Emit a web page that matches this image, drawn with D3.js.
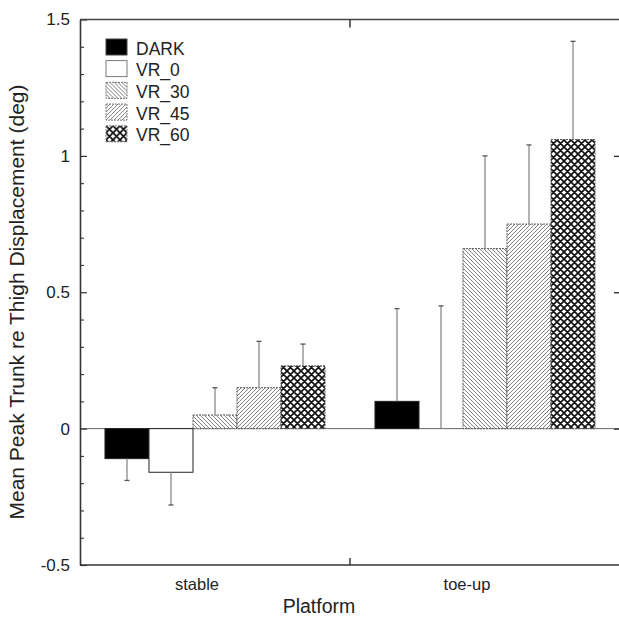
<!DOCTYPE html>
<html>
<head>
<meta charset="utf-8">
<script src="https://cdn.jsdelivr.net/npm/d3@7"></script>
<style>
  body { margin: 0; background: #fff; }
  svg text { font-family: "Liberation Sans", Arial, sans-serif; fill: #222; }
</style>
</head>
<body>
<div id="chart"></div>
<script>
// data
var platforms = ["stable", "toe-up"];
var conditions = ["DARK", "VR_0", "VR_30", "VR_45", "VR_60"];
var meanStable = [-0.11, -0.16, 0.05, 0.15, 0.23];
var meanToeUp  = [0.10, 0.00, 0.66, 0.75, 1.06];
var errStable  = [0.08, 0.12, 0.10, 0.17, 0.08];
var errToeUp   = [0.34, 0.45, 0.34, 0.29, 0.36];
var yTicks = [-0.5, 0, 0.5, 1, 1.5];
var yTickLabels = ["-0.5", "0", "0.5", "1", "1.5"];
var yMinorTicks = [-0.4, -0.3, -0.2, -0.1, 0.1, 0.2, 0.3, 0.4, 0.6, 0.7, 0.8, 0.9, 1.1, 1.2, 1.3, 1.4];

var means = { "stable": meanStable, "toe-up": meanToeUp };
var errs = { "stable": errStable, "toe-up": errToeUp };

var W = 619, H = 618;
var mLeft = 80, mRight = 620, mTop = 19.5, mBottom = 565;

var svg = d3.select("#chart").append("svg")
  .attr("width", W).attr("height", H);

// patterns
var defs = svg.append("defs");
var p30 = defs.append("pattern").attr("id", "vr30")
  .attr("patternUnits", "userSpaceOnUse").attr("width", 4).attr("height", 4);
p30.append("rect").attr("width", 4).attr("height", 4).attr("fill", "#fff");
p30.append("path").attr("d", "M-1,-1L5,5M3,-1L5,1M-1,3L1,5")
  .attr("stroke", "#707070").attr("stroke-width", 0.9);

var p45 = defs.append("pattern").attr("id", "vr45")
  .attr("patternUnits", "userSpaceOnUse").attr("width", 4).attr("height", 4);
p45.append("rect").attr("width", 4).attr("height", 4).attr("fill", "#fff");
p45.append("path").attr("d", "M-1,5L5,-1M-1,1L1,-1M3,5L5,3")
  .attr("stroke", "#707070").attr("stroke-width", 0.9);

var p60 = defs.append("pattern").attr("id", "vr60")
  .attr("patternUnits", "userSpaceOnUse").attr("width", 7).attr("height", 7);
p60.append("rect").attr("width", 7).attr("height", 7).attr("fill", "#fff");
p60.append("path").attr("d", "M-1,-1L8,8M-1,6L1,8M6,-1L8,1M-1,8L8,-1M-1,1L1,-1M6,8L8,6")
  .attr("stroke", "#111").attr("stroke-width", 1.7);

var fills = { "DARK": "#000", "VR_0": "#fff", "VR_30": "url(#vr30)", "VR_45": "url(#vr45)", "VR_60": "url(#vr60)" };

// scales
var x0 = d3.scaleBand().domain(platforms).range([mLeft, mRight])
  .paddingInner(0.185).paddingOuter(0.0925);
var x1 = d3.scaleBand().domain(conditions).range([0, x0.bandwidth()]);
var y = d3.scaleLinear().domain([-0.5, 1.5]).range([mBottom, mTop]);

// zero line
svg.append("line")
  .attr("x1", mLeft).attr("x2", mRight)
  .attr("y1", y(0)).attr("y2", y(0))
  .attr("stroke", "#666").attr("stroke-width", 1);

// bars
platforms.forEach(function(p) {
  var g = svg.append("g").attr("transform", "translate(" + x0(p) + ",0)");
  conditions.forEach(function(c, i) {
    var v = means[p][i];
    g.append("rect")
      .attr("x", x1(c)).attr("width", x1.bandwidth())
      .attr("y", y(Math.max(0, v)))
      .attr("height", Math.abs(y(v) - y(0)))
      .attr("fill", fills[c])
      .attr("stroke", i < 2 ? "#222" : "#555")
      .attr("stroke-width", 1)
      .attr("stroke-dasharray", i < 2 ? null : "2,1");
    // one-sided error bar
    var e = v >= 0 ? v + errs[p][i] : v - errs[p][i];
    var cx = x1(c) + x1.bandwidth() / 2;
    g.append("line")
      .attr("x1", cx).attr("x2", cx)
      .attr("y1", y(v)).attr("y2", y(e))
      .attr("stroke", "#8a8a8a").attr("stroke-width", 1.3);
    g.append("line")
      .attr("x1", cx - 2.5).attr("x2", cx + 2.5)
      .attr("y1", y(e)).attr("y2", y(e))
      .attr("stroke", "#555").attr("stroke-width", 1.3);
  });
});

// axes
var yAxis = svg.append("g").attr("transform", "translate(" + mLeft + ",0)")
  .call(d3.axisLeft(y).tickValues(yTicks)
    .tickFormat(function(d, i) { return yTickLabels[i]; })
    .tickSizeInner(-7).tickSizeOuter(0).tickPadding(10));
yAxis.select(".domain").attr("stroke", "#333").attr("stroke-width", 1.6);
yAxis.selectAll(".tick line").attr("stroke", "#333").attr("stroke-width", 1.2);
yAxis.selectAll("text").style("font-size", "17px").attr("fill", "#222")
  .style("font-family", "Liberation Sans, Arial, sans-serif");

var yMinor = svg.append("g").attr("transform", "translate(" + mLeft + ",0)")
  .call(d3.axisLeft(y).tickValues(yMinorTicks).tickFormat("")
    .tickSizeInner(-4).tickSizeOuter(0));
yMinor.select(".domain").remove();
yMinor.selectAll(".tick line").attr("stroke", "#333").attr("stroke-width", 1.1);

var yRight = svg.append("g").attr("transform", "translate(" + mRight + ",0)")
  .call(d3.axisRight(y).tickValues([0, 0.5, 1]).tickFormat("")
    .tickSizeInner(-6).tickSizeOuter(0));
yRight.select(".domain").attr("stroke", "#333");
yRight.selectAll(".tick line").attr("stroke", "#333").attr("stroke-width", 1.4);

// top and bottom frame lines with the group divider tick
var divider = (x0("stable") + x0.bandwidth() + x0("toe-up")) / 2;
svg.append("line").attr("x1", mLeft).attr("x2", mRight)
  .attr("y1", mTop).attr("y2", mTop)
  .attr("stroke", "#444").attr("stroke-width", 1.6);
svg.append("line").attr("x1", divider).attr("x2", divider)
  .attr("y1", mTop).attr("y2", mTop + 8)
  .attr("stroke", "#333").attr("stroke-width", 1.5);
svg.append("line").attr("x1", mLeft).attr("x2", mRight)
  .attr("y1", mBottom).attr("y2", mBottom)
  .attr("stroke", "#333").attr("stroke-width", 1.6);
svg.append("line").attr("x1", divider).attr("x2", divider)
  .attr("y1", mBottom).attr("y2", mBottom - 7)
  .attr("stroke", "#333").attr("stroke-width", 1.4);

// category labels
svg.selectAll(".cat").data(platforms).enter().append("text")
  .attr("class", "cat")
  .attr("x", function(d) { return x0(d) + x0.bandwidth() / 2 - 18; })
  .attr("y", 590)
  .attr("text-anchor", "middle")
  .style("font-size", "16.5px")
  .text(function(d) { return d; });

// axis titles
svg.append("text")
  .attr("x", (mLeft + mRight) / 2 - 31).attr("y", 613)
  .attr("text-anchor", "middle")
  .style("font-size", "19.5px")
  .text("Platform");

svg.append("text")
  .attr("transform", "translate(24," + 302 + ") rotate(-90)")
  .attr("text-anchor", "middle")
  .style("font-size", "21px")
  .text("Mean Peak Trunk re Thigh Displacement (deg)");

// legend
var legend = svg.append("g").attr("transform", "translate(106,39)");
conditions.forEach(function(c, i) {
  var row = legend.append("g").attr("transform", "translate(0," + (i * 21.7) + ")");
  row.append("rect")
    .attr("width", 21).attr("height", 16)
    .attr("fill", fills[c])
    .attr("stroke", i < 2 ? "#444" : "#777")
    .attr("stroke-width", i === 1 ? 0.7 : 1)
    .attr("stroke-dasharray", i < 2 ? null : "2,1");
  row.append("text")
    .attr("x", 30).attr("y", 15.5)
    .style("font-size", "17.5px")
    .text(c);
});
</script>
</body>
</html>
